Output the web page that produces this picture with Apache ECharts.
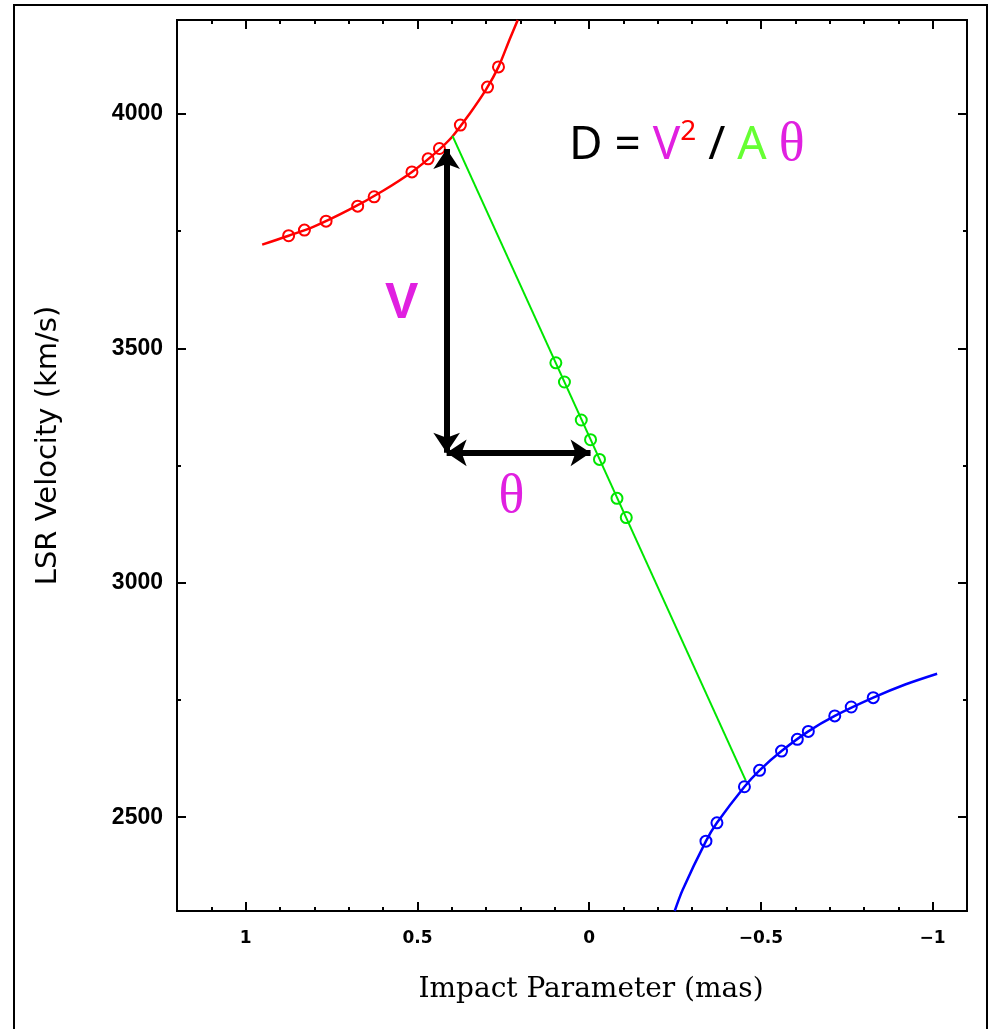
<!DOCTYPE html>
<html><head><meta charset="utf-8">
<script src="https://cdn.jsdelivr.net/npm/echarts@6/dist/echarts.min.js"></script>
<style>html,body{margin:0;padding:0;background:#fff}#c{width:994px;height:1029px}</style>
</head><body><div id="c"></div>
<script>
// ---- data (impact parameter mas, LSR velocity km/s) ----
const redCurve = [[0.952,3721],[0.875,3740],[0.80,3760],[0.70,3795],[0.60,3836],[0.516,3876],[0.45,3915],[0.40,3950],[0.35,3998],[0.30,4052],[0.264,4100],[0.232,4158],[0.208,4200]];
const redPoints = [[0.875,3740],[0.829,3752],[0.766,3771],[0.674,3803],[0.626,3823],[0.516,3876],[0.469,3904],[0.436,3926],[0.375,3976],[0.296,4057],[0.264,4100]];
const greenLine = [[0.398,3953],[-0.456,2578]];
const greenPoints = [[0.097,3469],[0.072,3428],[0.023,3347],[-0.004,3305],[-0.030,3263],[-0.081,3180],[-0.108,3139]];
const blueCurve = [[-0.249,2300],[-0.272,2345],[-0.340,2449],[-0.372,2488],[-0.452,2565],[-0.496,2600],[-0.560,2641],[-0.638,2683],[-0.715,2716],[-0.827,2755],[-0.92,2783],[-1.013,2806]];
const bluePoints = [[-0.340,2449],[-0.372,2488],[-0.452,2565],[-0.496,2600],[-0.560,2641],[-0.606,2666],[-0.638,2683],[-0.715,2716],[-0.763,2735],[-0.827,2755]];
const xMajorTicks = [-1,-0.5,0,0.5,1];
const xMinorTicks = [-1.1,-0.9,-0.8,-0.7,-0.6,-0.4,-0.3,-0.2,-0.1,0.1,0.2,0.3,0.4,0.6,0.7,0.8,0.9,1.1];
const yMajorTicks = [2500,3000,3500,4000];
const yMinorTicks = [2750,3250,3750];
const xRange = [-1.1, 1.2];
const yRange = [2300, 4200];
// annotation anchors (data coords)
const vArrow = [[0.415,3925],[0.415,3277]];
const hArrow = [[0.415,3277],[-0.004,3277]];
const vLabelAt = [0.546,3593];
const thetaLabelAt = [0.226,3182];
const formulaAt = [-0.284,3932];

const fmtX = v => v === 0 ? '0' : (v < 0 ? '\u2212' + String(Math.abs(v)) : String(v));
const fmtY = v => String(v);

function xAx(pos, ticks, len, withLabel) {
  return {
    type:'value', position:pos, min:xRange[0], max:xRange[1], inverse:true, gridIndex:0,
    axisLine:{show:true, onZero:false, lineStyle:{color:'#000', width:2}},
    axisTick:{show:true, inside:true, length:len, customValues:ticks, lineStyle:{color:'#000', width:2}},
    axisLabel: withLabel ? {show:true, customValues:xMajorTicks, formatter:fmtX, margin:19,
      fontFamily:'DejaVu Sans', fontWeight:'bold', fontSize:17, color:'#000'} : {show:false},
    splitLine:{show:false},
    name: withLabel ? 'Impact Parameter (mas)' : '',
    nameLocation:'middle', nameGap:65,
    nameTextStyle:{fontFamily:'DejaVu Serif', fontSize:28, color:'#000', padding:[0,0,0,38]}
  };
}
function yAx(pos, ticks, len, withLabel) {
  return {
    type:'value', position:pos, min:yRange[0], max:yRange[1], gridIndex:0,
    axisLine:{show:true, onZero:false, lineStyle:{color:'#000', width:2}},
    axisTick:{show:true, inside:true, length:len, customValues:ticks, lineStyle:{color:'#000', width:2}},
    axisLabel: withLabel ? {show:true, customValues:yMajorTicks, formatter:fmtY, margin:14,
      fontFamily:'Liberation Sans', fontWeight:'bold', fontSize:23, color:'#000'} : {show:false},
    splitLine:{show:false},
    name: withLabel ? 'LSR Velocity (km/s)' : '',
    nameLocation:'middle', nameGap:114,
    nameTextStyle:{fontFamily:'DejaVu Sans', fontSize:29, color:'#000', padding:[0,0,0,40]}
  };
}

const chart = echarts.init(document.getElementById('c'), null, {renderer:'canvas'});
const mag = '#e020e0';
const ring = c => ({color:'rgba(0,0,0,0)', borderColor:c, borderWidth:2, opacity:1});
chart.setOption({
  animation:false,
  backgroundColor:'#fff',
  grid:{left:177, right:27, top:20, bottom:118, outerBoundsMode:'none', containLabel:false},
  xAxis:[xAx('bottom', xMajorTicks, 9, true), xAx('bottom', xMinorTicks, 4, false), xAx('top', xMajorTicks, 9, false), xAx('top', xMinorTicks, 4, false)],
  yAxis:[yAx('left', yMajorTicks, 9, true), yAx('left', yMinorTicks, 4, false), yAx('right', yMajorTicks, 9, false), yAx('right', yMinorTicks, 4, false)],
  graphic:[{type:'rect', silent:true, z:-10, shape:{x:14, y:5, width:973, height:1100}, style:{fill:'none', stroke:'#000', lineWidth:2}}],
  series:[
    {type:'line', data:redCurve, smooth:0.3, showSymbol:false, lineStyle:{color:'#ff0000', width:2.5}, clip:true, z:3},
    {type:'scatter', data:redPoints, symbol:'circle', symbolSize:11, itemStyle:ring('#ff0000'), z:4},
    {type:'line', data:greenLine, showSymbol:false, lineStyle:{color:'#00e600', width:2}, z:3},
    {type:'scatter', data:greenPoints, symbol:'circle', symbolSize:11, itemStyle:ring('#00e600'), z:4},
    {type:'line', data:blueCurve, smooth:0.3, showSymbol:false, lineStyle:{color:'#0000ff', width:2.5}, clip:true, z:3},
    {type:'scatter', data:bluePoints, symbol:'circle', symbolSize:11, itemStyle:ring('#0000ff'), z:4},
    {type:'scatter', symbolSize:0, silent:true, z:6, itemStyle:{opacity:1},
      data:[
        {value:vLabelAt, label:{show:true, position:'inside', formatter:'V', fontFamily:'Liberation Sans', fontWeight:'bold', fontSize:50, color:mag}},
        {value:thetaLabelAt, label:{show:true, position:'inside', formatter:'\u03b8', fontFamily:'Liberation Serif', fontSize:54, color:mag}},
        {value:formulaAt, label:{show:true, position:'inside',
          formatter:'{k|D = }{v|V}{s|2}{k| / }{a|A }{t|\u03b8}',
          rich:{
            k:{fontFamily:'Noto Sans', fontSize:46, color:'#000', lineHeight:56},
            v:{fontFamily:'Noto Sans', fontSize:46, color:mag, lineHeight:56},
            s:{fontFamily:'Noto Sans', fontSize:28, color:'#ff0000', lineHeight:28, verticalAlign:'top'},
            a:{fontFamily:'Noto Sans', fontSize:46, color:'#66ff33', lineHeight:56},
            t:{fontFamily:'Liberation Serif', fontSize:54, color:mag, lineHeight:56}
          }}}
      ],
      markLine:{silent:true, symbol:['arrow','arrow'], symbolSize:20, label:{show:false},
        lineStyle:{color:'#000', width:6, type:'solid', opacity:1},
        emphasis:{disabled:true},
        data:[
          [{coord:vArrow[0]},{coord:vArrow[1]}],
          [{coord:hArrow[0]},{coord:hArrow[1]}]
        ]}
    }
  ]
});
</script></body></html>
